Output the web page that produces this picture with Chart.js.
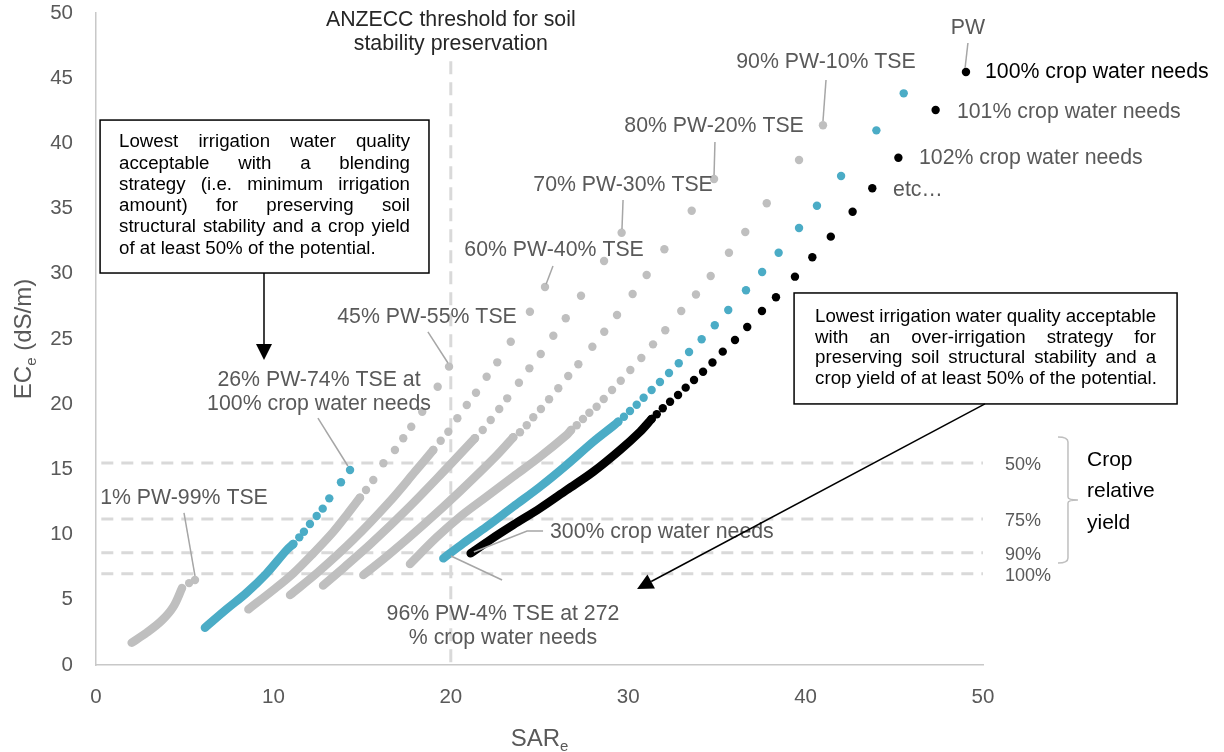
<!DOCTYPE html>
<html>
<head>
<meta charset="utf-8">
<title>ECe vs SARe blending curves</title>
<script src="https://cdn.jsdelivr.net/npm/chart.js@4.4.1/dist/chart.umd.min.js"></script>
<style>
  html, body { margin: 0; padding: 0; background: #fff; }
  #wrap { width: 1224px; height: 752px; }
</style>
</head>
<body>
<div id="wrap"><canvas id="chart" width="1224" height="752"></canvas></div>
<script>
// values: [SARe, ECe]
// upper, well separated points (100%, 101%, 102% ... crop water needs)
// and the dense lower part of each curve up to 300% crop water needs
var pwDots = [[49.04, 45.48], [47.33, 42.56], [45.23, 38.90], [43.76, 36.56], [42.65, 34.76], [41.42, 32.85],
  [40.38, 31.27], [39.40, 29.78], [38.33, 28.20], [37.54, 27.15], [36.71, 25.92], [36.02, 24.92], [35.33, 24.03],
  [34.75, 23.20], [34.22, 22.49], [33.71, 21.86], [33.24, 21.27], [32.81, 20.71], [32.36, 20.19], [31.95, 19.69],
  [31.61, 19.23], [31.32, 18.87]];
var pwTail = [[31.32, 18.87], [30.67, 17.89], [29.54, 16.49], [28.03, 14.82], [26.53, 13.42], [25.03, 12.02],
  [23.52, 10.74], [22.21, 9.59], [21.12, 8.57]];

var pw96Dots = [[45.53, 43.84], [43.99, 41.00], [42.00, 37.50], [40.64, 35.22], [39.63, 33.51], [38.48, 31.62],
  [37.55, 30.14], [36.64, 28.74], [35.64, 27.22], [34.88, 26.05], [34.14, 24.98], [33.43, 24.00], [32.85, 23.14],
  [32.30, 22.39], [31.79, 21.70], [31.32, 21.09], [30.87, 20.50], [30.48, 19.96], [30.10, 19.48], [29.76, 19.04],
  [29.44, 18.66]];
var pw96Tail = [[29.44, 18.66], [29.16, 18.34], [28.03, 17.12], [26.53, 15.34], [25.03, 13.67], [23.52, 12.14],
  [22.02, 10.61], [20.70, 9.33], [19.58, 8.18]];

var pw90Dots = [[40.98, 41.39], [39.63, 38.73], [37.81, 35.41], [36.60, 33.21], [35.68, 31.62], [34.65, 29.83],
  [33.82, 28.41], [32.99, 27.15], [32.09, 25.67], [31.40, 24.59], [30.74, 23.54], [30.12, 22.62], [29.58, 21.80],
  [29.09, 21.09], [28.62, 20.40], [28.22, 19.81], [27.81, 19.35], [27.45, 18.87], [27.10, 18.38], [26.78, 18.02]];
var pw90Tail = [[26.78, 18.02], [26.53, 17.64], [25.03, 15.97], [23.52, 14.44], [22.02, 12.91], [20.52, 11.37],
  [19.21, 9.80], [17.70, 7.75]];

var pw80Dots = [[34.84, 37.27], [33.58, 34.84], [32.04, 31.88], [31.04, 29.91], [30.25, 28.45], [29.37, 26.84],
  [28.65, 25.56], [27.98, 24.41], [27.19, 23.06], [26.62, 22.16], [26.06, 21.22], [25.54, 20.38], [25.08, 19.63],
  [24.65, 19.00], [24.28, 18.38], [23.90, 17.85], [23.52, 17.46]];
var pw80Tail = [[23.52, 17.46], [22.50, 15.95], [20.50, 13.30], [18.50, 10.80], [16.50, 8.45], [15.07, 6.90]];

var pw70Dots = [[29.63, 33.15], [28.64, 30.98], [27.34, 28.32], [26.48, 26.59], [25.78, 25.25], [25.07, 23.85],
  [24.43, 22.75], [23.84, 21.65], [23.18, 20.45], [22.73, 19.63], [22.25, 18.79], [21.80, 18.02], [21.36, 17.39]];
var pw70Tail = [[21.36, 17.39], [19.50, 14.70], [17.50, 11.90], [15.50, 9.30], [14.00, 7.50], [12.80, 6.10]];

var pw60Dots = [[25.31, 28.99], [24.46, 27.09], [23.38, 24.79], [22.62, 23.21], [22.02, 22.11], [21.42, 20.88],
  [20.90, 19.94], [20.37, 18.92], [19.86, 17.89], [19.43, 17.20], [19.01, 16.49]];
var pw60Tail = [[19.01, 16.49], [18.00, 14.85], [16.50, 12.45], [14.50, 9.60], [12.50, 7.10], [10.94, 5.37]];

var pw45Dots = [[19.90, 22.88], [19.26, 21.34], [18.39, 19.42], [17.77, 18.27], [17.32, 17.39], [16.85, 16.49],
  [16.20, 15.47], [15.63, 14.19], [15.22, 13.42], [14.88, 12.83]];
var pw45Tail = [[14.88, 12.83], [14.13, 11.50], [13.38, 10.22], [12.25, 8.57], [11.12, 7.03], [9.99, 5.75], [8.59, 4.27]];

var pw26Dots = [[14.32, 14.95], [13.81, 14.01], [13.15, 12.78], [12.78, 11.99], [12.44, 11.43], [12.06, 10.81],
  [11.72, 10.22], [11.46, 9.79], [11.12, 9.28]];
var pw26Tail = [[11.12, 9.28], [10.75, 8.82], [9.62, 7.03], [8.49, 5.54], [7.37, 4.29], [6.14, 2.86]];

var pw1Dots = [[5.58, 6.52], [5.25, 6.28]];
var pw1Tail = [[4.85, 5.90], [4.36, 4.47], [3.70, 3.40], [2.86, 2.48], [2.01, 1.71]];

// crop relative yield thresholds (ECe) and ANZECC SAR threshold
var yieldLevels = [15.5, 11.2, 8.6, 7.0];
var yieldLabels = ['50%', '75%', '90%', '100%'];
var anzeccSar = 20;

var xTicks = [0, 10, 20, 30, 40, 50];
var yTicks = [0, 5, 10, 15, 20, 25, 30, 35, 40, 45, 50];

(function (window, document) {
  'use strict';

  var GRAY = '#bfbfbf';
  var BLUE = '#4bacc6';
  var BLACK = '#000000';
  var TEXT = '#595959';
  var FONT = '"Liberation Sans", Arial, sans-serif';
  var LABEL_FONT = '21.3px ' + FONT;

  function toPoints(list) {
    return list.map(function (p) { return { x: p[0], y: p[1] }; });
  }

  function dotSet(list, color) {
    return {
      data: toPoints(list),
      showLine: false,
      pointRadius: 4.2,
      pointHoverRadius: 4.2,
      pointBorderWidth: 0,
      pointBackgroundColor: color,
      backgroundColor: color,
      borderColor: color
    };
  }

  function tailSet(list, color) {
    return {
      data: toPoints(list),
      showLine: true,
      pointRadius: 0,
      pointHoverRadius: 0,
      borderColor: color,
      borderWidth: 8.5,
      borderCapStyle: 'round',
      borderJoinStyle: 'round',
      tension: 0.35,
      fill: false
    };
  }

  var datasets = [
    dotSet(pwDots, BLACK), tailSet(pwTail, BLACK),
    dotSet(pw96Dots, BLUE), tailSet(pw96Tail, BLUE),
    dotSet(pw90Dots, GRAY), tailSet(pw90Tail, GRAY),
    dotSet(pw80Dots, GRAY), tailSet(pw80Tail, GRAY),
    dotSet(pw70Dots, GRAY), tailSet(pw70Tail, GRAY),
    dotSet(pw60Dots, GRAY), tailSet(pw60Tail, GRAY),
    dotSet(pw45Dots, GRAY), tailSet(pw45Tail, GRAY),
    dotSet(pw26Dots, BLUE), tailSet(pw26Tail, BLUE),
    dotSet(pw1Dots, GRAY), tailSet(pw1Tail, GRAY)
  ];

  // gray labels with a leader line, positions in chart units
  var callouts = [
    { lines: ['PW'], at: [49.15, 48.85], from: [49.15, 47.7], to: [48.99, 45.78] },
    { lines: ['90% PW-10% TSE'], at: [41.15, 46.24], from: [41.15, 44.86], to: [40.98, 41.72] },
    { lines: ['80% PW-20% TSE'], at: [34.84, 41.33], from: [34.89, 40.11], to: [34.84, 37.58] },
    { lines: ['70% PW-30% TSE'], at: [29.71, 36.81], from: [29.71, 35.66], to: [29.65, 33.44] },
    { lines: ['60% PW-40% TSE'], at: [25.82, 31.83], from: [25.76, 30.6], to: [25.37, 29.2] },
    { lines: ['45% PW-55% TSE'], at: [18.66, 26.69], from: [18.71, 25.54], to: [19.84, 23.16] },
    { lines: ['26% PW-74% TSE at', '100% crop water needs'], at: [12.57, 21.86], from: [12.51, 18.94], to: [14.2, 15.26] },
    { lines: ['1% PW-99% TSE'], at: [4.96, 12.81], from: [4.96, 11.66], to: [5.58, 6.83] },
    { lines: ['96% PW-4% TSE at 272', '% crop water needs'], at: [22.94, 3.91], from: [22.89, 6.52], to: [20.01, 8.36] }
  ];

  var sideNotes = [
    { text: '100% crop water needs', at: [50.11, 45.48], color: BLACK },
    { text: '101% crop water needs', at: [48.53, 42.4], color: TEXT },
    { text: '102% crop water needs', at: [46.39, 38.88], color: TEXT },
    { text: 'etc\u2026', at: [44.93, 36.43], color: TEXT },
    { text: '300% crop water needs', at: [25.59, 10.2], color: TEXT }
  ];

  var leftBox = {
    x0: 0.23, y0: 41.79, x1: 18.77, y1: 30.06, inset: 19, first: 22, lineHeight: 21.3,
    lines: ['Lowest irrigation water quality', 'acceptable with a blending', 'strategy (i.e. minimum irrigation',
      'amount) for preserving soil', 'structural stability and a crop yield', 'of at least 50% of the potential.']
  };
  var rightBox = {
    x0: 39.35, y0: 28.53, x1: 60.94, y1: 20.02, inset: 21, first: 24, lineHeight: 20.5,
    lines: ['Lowest irrigation water quality acceptable', 'with an over-irrigation strategy for',
      'preserving soil structural stability and a', 'crop yield of at least 50% of the potential.']
  };

  function px(chart, v) { return chart.scales.x.getPixelForValue(v); }
  function py(chart, v) { return chart.scales.y.getPixelForValue(v); }

  function drawJustified(ctx, box, chart) {
    var left = px(chart, box.x0);
    var right = px(chart, box.x1);
    var top = py(chart, box.y0);
    var bottom = py(chart, box.y1);
    ctx.strokeStyle = BLACK;
    ctx.lineWidth = 1.5;
    ctx.strokeRect(left, top, right - left, bottom - top);

    var textLeft = left + box.inset;
    var width = right - left - 2 * box.inset;
    ctx.fillStyle = BLACK;
    ctx.font = '18.7px ' + FONT;
    ctx.textAlign = 'left';
    ctx.textBaseline = 'middle';
    box.lines.forEach(function (line, i) {
      var y = top + box.first + i * box.lineHeight;
      var words = line.split(' ');
      if (i === box.lines.length - 1 || words.length < 2) {
        ctx.fillText(line, textLeft, y);
        return;
      }
      var wordsWidth = words.reduce(function (sum, w) { return sum + ctx.measureText(w).width; }, 0);
      var gap = (width - wordsWidth) / (words.length - 1);
      var x = textLeft;
      words.forEach(function (w) {
        ctx.fillText(w, x, y);
        x += ctx.measureText(w).width + gap;
      });
    });
  }

  function arrow(ctx, x0, y0, x1, y1) {
    var ang = Math.atan2(y1 - y0, x1 - x0);
    var len = 16, half = 8;
    var bx = x1 - len * Math.cos(ang);
    var by = y1 - len * Math.sin(ang);
    ctx.strokeStyle = BLACK;
    ctx.fillStyle = BLACK;
    ctx.lineWidth = 1.5;
    ctx.beginPath();
    ctx.moveTo(x0, y0);
    ctx.lineTo(bx, by);
    ctx.stroke();
    ctx.beginPath();
    ctx.moveTo(x1, y1);
    ctx.lineTo(bx + half * Math.sin(ang), by - half * Math.cos(ang));
    ctx.lineTo(bx - half * Math.sin(ang), by + half * Math.cos(ang));
    ctx.closePath();
    ctx.fill();
  }

  var referenceLines = {
    id: 'referenceLines',
    beforeDatasetsDraw: function (chart) {
      var ctx = chart.ctx;
      ctx.save();
      ctx.strokeStyle = '#d9d9d9';
      ctx.lineWidth = 3;
      ctx.setLineDash([12, 8]);
      yieldLevels.forEach(function (v) {
        ctx.beginPath();
        ctx.moveTo(px(chart, 0.3), py(chart, v));
        ctx.lineTo(px(chart, 50), py(chart, v));
        ctx.stroke();
      });
      ctx.setLineDash([13, 8]);
      ctx.beginPath();
      ctx.moveTo(px(chart, anzeccSar), py(chart, 46.3));
      ctx.lineTo(px(chart, anzeccSar), py(chart, 0));
      ctx.stroke();
      ctx.restore();
    }
  };

  var annotations = {
    id: 'annotations',
    afterDraw: function (chart) {
      var ctx = chart.ctx;
      ctx.save();

      // leader lines and gray labels
      ctx.lineWidth = 1.5;
      ctx.strokeStyle = '#a6a6a6';
      callouts.forEach(function (c) {
        ctx.beginPath();
        ctx.moveTo(px(chart, c.from[0]), py(chart, c.from[1]));
        ctx.lineTo(px(chart, c.to[0]), py(chart, c.to[1]));
        ctx.stroke();
      });
      ctx.beginPath();
      ctx.moveTo(px(chart, 25.2), py(chart, 10.28));
      ctx.lineTo(px(chart, 24.3), py(chart, 10.28));
      ctx.lineTo(px(chart, 21.3), py(chart, 8.67));
      ctx.stroke();

      ctx.font = LABEL_FONT;
      ctx.fillStyle = TEXT;
      ctx.textAlign = 'center';
      ctx.textBaseline = 'middle';
      callouts.forEach(function (c) {
        c.lines.forEach(function (line, i) {
          ctx.fillText(line, px(chart, c.at[0]), py(chart, c.at[1]) + i * 24);
        });
      });

      ctx.textAlign = 'left';
      sideNotes.forEach(function (n) {
        ctx.fillStyle = n.color;
        ctx.fillText(n.text, px(chart, n.at[0]), py(chart, n.at[1]));
      });

      // ANZECC threshold title
      ctx.fillStyle = '#262626';
      ctx.textAlign = 'center';
      ctx.fillText('ANZECC threshold for soil', px(chart, anzeccSar), py(chart, 49.46));
      ctx.fillText('stability preservation', px(chart, anzeccSar), py(chart, 47.62));

      // crop relative yield labels and bracket
      ctx.font = '18px ' + FONT;
      ctx.fillStyle = TEXT;
      ctx.textAlign = 'left';
      yieldLevels.forEach(function (v, i) {
        ctx.fillText(yieldLabels[i], px(chart, 51.24), py(chart, v) + 2);
      });
      var bx = px(chart, 54.79);
      var bTop = py(chart, 17.48), bMid = py(chart, 12.65), bBot = py(chart, 7.82);
      ctx.strokeStyle = GRAY;
      ctx.lineWidth = 1.5;
      ctx.beginPath();
      ctx.moveTo(bx - 10, bTop);
      ctx.quadraticCurveTo(bx, bTop, bx, bTop + 5);
      ctx.lineTo(bx, bMid - 3);
      ctx.quadraticCurveTo(bx, bMid, bx + 10, bMid);
      ctx.moveTo(bx + 10, bMid);
      ctx.quadraticCurveTo(bx, bMid, bx, bMid + 3);
      ctx.lineTo(bx, bBot - 5);
      ctx.quadraticCurveTo(bx, bBot, bx - 10, bBot);
      ctx.stroke();
      ctx.font = '21px ' + FONT;
      ctx.fillStyle = BLACK;
      ['Crop', 'relative', 'yield'].forEach(function (w, i) {
        ctx.fillText(w, bx + 19, bTop + 23 + i * 31.5);
      });

      // boxes and arrows
      drawJustified(ctx, leftBox, chart);
      drawJustified(ctx, rightBox, chart);
      arrow(ctx, px(chart, 9.47), py(chart, 30.06), px(chart, 9.47), py(chart, 23.39));
      arrow(ctx, px(chart, 50.11), py(chart, 20.02), px(chart, 30.5), py(chart, 5.83));

      // axis titles with subscripts
      ctx.fillStyle = TEXT;
      ctx.textBaseline = 'alphabetic';
      var big = '24px ' + FONT, small = '15px ' + FONT;
      ctx.font = big;
      var wSar = ctx.measureText('SAR').width;
      ctx.font = small;
      var wE = ctx.measureText('e').width;
      var sx = px(chart, 25) - (wSar + wE) / 2;
      ctx.font = big;
      ctx.textAlign = 'left';
      ctx.fillText('SAR', sx, 746);
      ctx.font = small;
      ctx.fillText('e', sx + wSar, 751);

      ctx.translate(31, py(chart, 25));
      ctx.rotate(-Math.PI / 2);
      ctx.font = big;
      var wEc = ctx.measureText('EC').width;
      var wRest = ctx.measureText(' (dS/m)').width;
      ctx.font = small;
      var wSub = ctx.measureText('e').width;
      var start = -(wEc + wSub + wRest) / 2;
      ctx.font = big;
      ctx.fillText('EC', start, 0);
      ctx.font = small;
      ctx.fillText('e', start + wEc, 5);
      ctx.font = big;
      ctx.fillText(' (dS/m)', start + wEc + wSub, 0);

      ctx.restore();
    }
  };

  Chart.defaults.font.family = FONT;
  Chart.defaults.color = TEXT;

  new Chart(document.getElementById('chart').getContext('2d'), {
    type: 'scatter',
    data: { datasets: datasets },
    options: {
      responsive: false,
      animation: false,
      devicePixelRatio: 1,
      events: [],
      layout: { padding: { left: 0, top: 13, right: 241, bottom: 0 } },
      plugins: { legend: { display: false }, tooltip: { enabled: false } },
      scales: {
        x: {
          type: 'linear',
          min: 0,
          max: 50,
          afterFit: function (scale) {
            scale.height = 87;
            scale.paddingLeft = 0;
            scale.paddingRight = 0;
          },
          afterBuildTicks: function (scale) { scale.ticks = xTicks.map(function (v) { return { value: v }; }); },
          grid: { display: false, drawTicks: false },
          border: { display: true, color: '#c8c8c8', width: 1.5 },
          ticks: { color: TEXT, font: { size: 20.5 }, padding: 20, maxRotation: 0 }
        },
        y: {
          type: 'linear',
          min: 0,
          max: 50,
          afterFit: function (scale) {
            scale.width = 96;
            scale.paddingTop = 0;
            scale.paddingBottom = 0;
          },
          afterBuildTicks: function (scale) { scale.ticks = yTicks.map(function (v) { return { value: v }; }); },
          grid: { display: false, drawTicks: false },
          border: { display: true, color: '#c8c8c8', width: 1.5 },
          ticks: { color: TEXT, font: { size: 20.5 }, padding: 23 }
        }
      }
    },
    plugins: [referenceLines, annotations]
  });
})(window, document);
</script>
</body>
</html>
